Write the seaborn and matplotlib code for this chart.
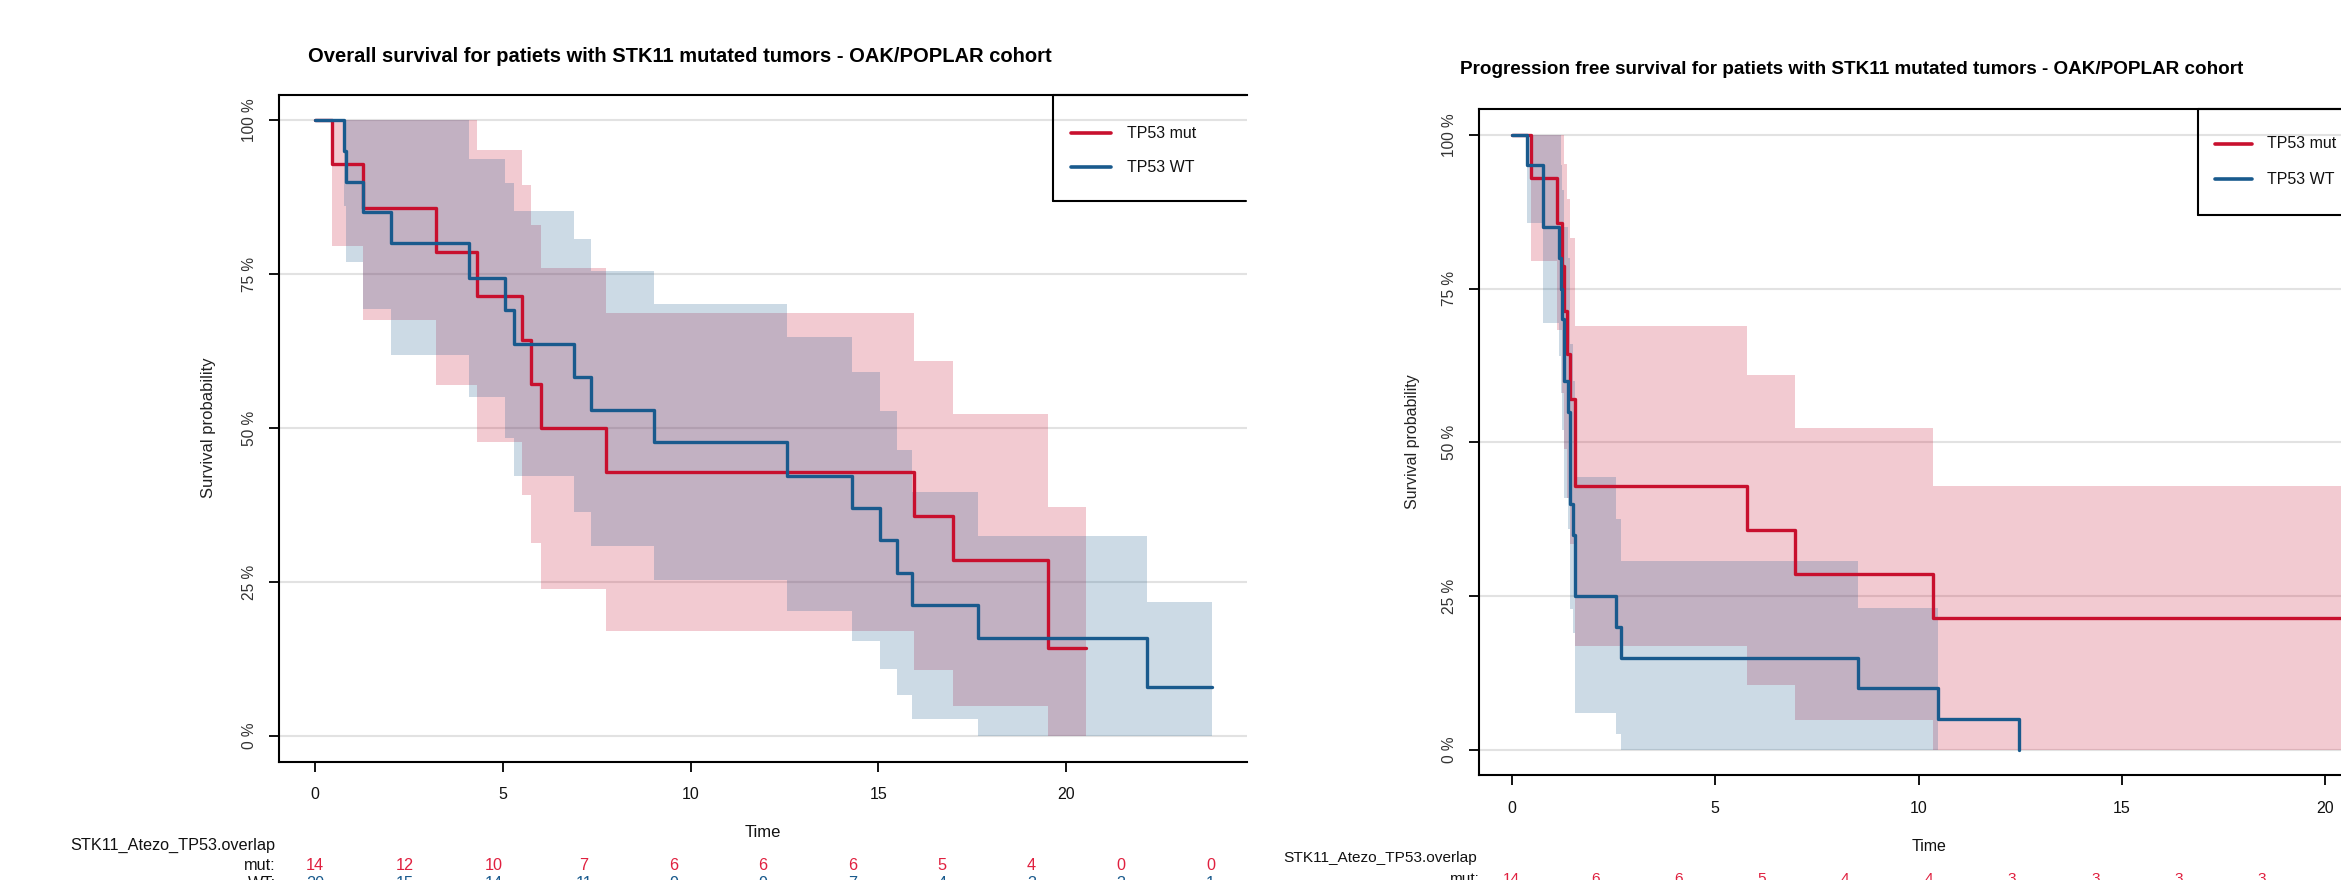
import numpy as np
import pandas as pd
import matplotlib
matplotlib.use("Agg")
import matplotlib.pyplot as plt
import seaborn as sns
from matplotlib.lines import Line2D
from matplotlib import transforms

# ------------------------------------------------------------------ data
groups = ["TP53 mut", "TP53 WT"]

# Overall survival (left panel)
os_mut_t  = [0.00, 0.45, 1.28, 3.23, 4.30, 5.52, 5.75, 6.01, 7.74, 15.94, 17.00, 19.53, 20.53]
os_mut_s  = [1.000, 0.929, 0.857, 0.786, 0.714, 0.643, 0.571, 0.500, 0.429, 0.357, 0.286, 0.143, 0.143]
os_mut_lo = [1.000, 0.796, 0.675, 0.570, 0.477, 0.392, 0.313, 0.238, 0.170, 0.107, 0.049, 0.000, 0.000]
os_mut_hi = [1.000, 1.000, 1.000, 1.000, 0.951, 0.894, 0.830, 0.760, 0.687, 0.609, 0.522, 0.372, 0.372]

os_wt_t  = [0.00, 0.77, 0.82, 1.28, 2.03, 4.10, 5.05, 5.30, 6.89, 7.36, 9.03, 12.56, 14.29, 15.04, 15.49, 15.91, 17.65, 22.16, 23.90]
os_wt_s  = [1.000, 0.950, 0.900, 0.850, 0.800, 0.743, 0.691, 0.637, 0.582, 0.530, 0.477, 0.422, 0.370, 0.318, 0.265, 0.212, 0.159, 0.079, 0.079]
os_wt_lo = [1.000, 0.860, 0.770, 0.694, 0.619, 0.551, 0.484, 0.422, 0.364, 0.308, 0.253, 0.203, 0.154, 0.108, 0.067, 0.027, 0.000, 0.000, 0.000]
os_wt_hi = [1.000, 1.000, 1.000, 1.000, 1.000, 0.937, 0.897, 0.853, 0.807, 0.755, 0.702, 0.648, 0.591, 0.528, 0.464, 0.396, 0.324, 0.217, 0.217]

# Progression free survival (right panel)
pfs_mut_t  = [0.00, 0.47, 1.12, 1.22, 1.29, 1.36, 1.42, 1.54, 5.78, 6.97, 10.36, 20.50]
pfs_mut_s  = [1.000, 0.929, 0.857, 0.786, 0.714, 0.643, 0.571, 0.429, 0.357, 0.286, 0.214, 0.214]
pfs_mut_lo = [1.000, 0.795, 0.682, 0.580, 0.490, 0.410, 0.335, 0.169, 0.106, 0.049, 0.000, 0.000]
pfs_mut_hi = [1.000, 1.000, 1.000, 1.000, 0.952, 0.895, 0.832, 0.689, 0.609, 0.523, 0.429, 0.429]

pfs_wt_t  = [0.00, 0.36, 0.76, 1.15, 1.20, 1.24, 1.27, 1.37, 1.42, 1.49, 1.54, 1.56, 2.56, 2.68, 8.50, 10.47, 12.46]
pfs_wt_s  = [1.000, 0.950, 0.850, 0.800, 0.750, 0.700, 0.600, 0.550, 0.400, 0.350, 0.300, 0.250, 0.200, 0.150, 0.100, 0.050, 0.000]
pfs_wt_band_t  = [0.00, 0.36, 0.76, 1.15, 1.20, 1.24, 1.27, 1.37, 1.42, 1.49, 1.54, 1.56, 2.56, 2.68, 8.50, 10.47]
pfs_wt_lo = [1.000, 0.857, 0.694, 0.640, 0.580, 0.520, 0.410, 0.360, 0.230, 0.190, 0.140, 0.060, 0.026, 0.000, 0.000, 0.000]
pfs_wt_hi = [1.000, 1.000, 1.000, 1.000, 0.950, 0.910, 0.850, 0.800, 0.660, 0.600, 0.520, 0.444, 0.375, 0.307, 0.231, 0.231]

# numbers at risk
os_risk_times = [0.00, 2.39, 4.77, 7.16, 9.54, 11.93, 14.31, 16.70, 19.08, 21.47, 23.85]
os_risk_mut = [14, 12, 10, 7, 6, 6, 6, 5, 4, 0, 0]
os_risk_wt = [20, 15, 14, 11, 9, 9, 7, 4, 3, 3, 1]
pfs_risk_times = [0.00, 2.05, 4.10, 6.15, 8.20, 10.25, 12.30, 14.35, 16.40, 18.45]
pfs_risk_mut = [14, 6, 6, 5, 4, 4, 3, 3, 3, 3]

y_ticks = [0, 0.25, 0.5, 0.75, 1.0]
y_ticklabels = ["0 %", "25 %", "50 %", "75 %", "100 %"]
x_ticks = [0, 5, 10, 15, 20]

title_os = "Overall survival for patiets with STK11 mutated tumors - OAK/POPLAR cohort"
title_pfs = "Progression free survival for patiets with STK11 mutated tumors - OAK/POPLAR cohort"
strata_label = "STK11_Atezo_TP53.overlap"

# ------------------------------------------------------------------ style
RED = "#C8102E"
BLUE = "#195A8D"
RED_TXT = "#E0203F"
palette = {"TP53 mut": RED, "TP53 WT": BLUE}

sns.set_style("white")
plt.rcParams["font.family"] = ["Liberation Sans", "DejaVu Sans"]

W, H = 2341, 880
fig = plt.figure(figsize=(W / 100, H / 100), dpi=100)
fig.patch.set_facecolor("white")


def fx(px):
    return px / W


def fy(py):
    return 1 - py / H


def panel(rect, xlim, ylim, curves, bands, tick_fs, pad_x, pad_y):
    ax = fig.add_axes(rect)
    ax.set_xlim(*xlim)
    ax.set_ylim(*ylim)
    ax.set_facecolor("white")
    ax.set_axisbelow(True)
    ax.yaxis.grid(True, color="#E2E2E2", lw=1.5)
    ax.xaxis.grid(False)
    for (t, lo, hi), col in bands:
        ax.fill_between(t, lo, hi, step="post", color=col, alpha=0.22, lw=0, zorder=1)
    frames = []
    for g, (t, s) in curves.items():
        frames.append(pd.DataFrame({"time": t, "surv": s, "group": g}))
    df = pd.concat(frames, ignore_index=True)
    sns.lineplot(data=df, x="time", y="surv", hue="group", palette=palette,
                 hue_order=groups, estimator=None, drawstyle="steps-post",
                 lw=2.4, legend=False, ax=ax, zorder=3)
    ax.set_xlabel("")
    ax.set_ylabel("")
    ax.set_xticks(x_ticks)
    ax.set_xticklabels([str(v) for v in x_ticks], fontsize=tick_fs, color="#111111")
    ax.set_yticks(y_ticks)
    ax.set_yticklabels(y_ticklabels, rotation=90, va="center", fontsize=tick_fs - 0.3, color="#333333")
    ax.tick_params(axis="x", direction="out", length=7.5, width=1.3, color="black", pad=pad_x, bottom=True)
    ax.tick_params(axis="y", direction="out", length=7.5, width=1.3, color="black", pad=pad_y, left=True)
    for side in ["left", "bottom", "top"]:
        ax.spines[side].set_visible(True)
        ax.spines[side].set_color("black")
        ax.spines[side].set_linewidth(1.5)
    ax.spines["right"].set_visible(False)
    return ax


# ---------------- left panel: overall survival
axL = panel([fx(279), fy(762), fx(1247 - 279), (762 - 95) / H],
            (-0.96, 24.82), (-0.0422, 1.0406),
            {"TP53 mut": (os_mut_t, os_mut_s), "TP53 WT": (os_wt_t, os_wt_s)},
            [((os_mut_t, os_mut_lo, os_mut_hi), RED), ((os_wt_t, os_wt_lo, os_wt_hi), BLUE)],
            11.5, 10.5, 8.5)

# ---------------- right panel: progression free survival
axR = panel([fx(1479), fy(775), fx(899), (775 - 109) / H],
            (-0.81, 21.3), (-0.0406, 1.0418),
            {"TP53 mut": (pfs_mut_t, pfs_mut_s), "TP53 WT": (pfs_wt_t, pfs_wt_s)},
            [((pfs_mut_t, pfs_mut_lo, pfs_mut_hi), RED), ((pfs_wt_band_t, pfs_wt_lo, pfs_wt_hi), BLUE)],
            11.5, 11.0, 8.0)

# titles and axis labels
fig.text(fx(680), fy(56), title_os, ha="center", va="center", fontsize=14.5, fontweight="bold", color="black")
fig.text(fx(1852), fy(70), title_pfs, ha="center", va="center", fontsize=13.6, fontweight="bold", color="black")
fig.text(fx(209), fy(428), "Survival probability", rotation=90, ha="center", va="center", fontsize=12, color="#222222")
fig.text(fx(1413), fy(442), "Survival probability", rotation=90, ha="center", va="center", fontsize=11.5, color="#222222")
fig.text(fx(763), fy(832), "Time", ha="center", va="center", fontsize=12, color="#111111")
fig.text(fx(1929), fy(846), "Time", ha="center", va="center", fontsize=11.5, color="#111111")


# legends (boxes partly cut by the screenshot edge)
def legend_box(x0, x1, y0, y1, line_x0, line_x1, text_x, rows, fs):
    for xs, ys in [([x0, x0], [y0, y1]), ([x0, x1], [y1, y1]), ([x0, x1], [y0, y0])]:
        fig.add_artist(Line2D([fx(v) for v in xs], [fy(v) for v in ys], color="black", lw=1.5))
    for g, ry in zip(groups, rows):
        fig.add_artist(Line2D([fx(line_x0), fx(line_x1)], [fy(ry), fy(ry)], color=palette[g], lw=2.6))
        fig.text(fx(text_x), fy(ry), g, ha="left", va="center", fontsize=fs, color="#111111")


legend_box(1053, 1246, 95, 201, 1071, 1111, 1127, [133, 167], 11.5)
legend_box(2198, 2345, 109, 215, 2215, 2252, 2267, [144, 179], 11.5)


# number-at-risk tables
def risk_table(ax, times, rows, title_xy, label_x, row_ys, fs):
    fig.text(fx(title_xy[0]), fy(title_xy[1]), strata_label, ha="left", va="center", fontsize=fs, color="#111111")
    trans = transforms.blended_transform_factory(ax.transData, fig.transFigure)
    for (name, vals, col), ry in zip(rows, row_ys):
        fig.text(fx(label_x), fy(ry), name, ha="right", va="center", fontsize=fs, color="#111111")
        for t, v in zip(times, vals):
            ax.text(t, fy(ry), str(v), transform=trans, ha="center", va="center",
                    fontsize=fs, color=col, clip_on=False)


risk_table(axL, os_risk_times,
           [("mut:", os_risk_mut, RED_TXT), ("WT:", os_risk_wt, BLUE)],
           (70, 845), 276, [865, 883], 11.7)
risk_table(axR, pfs_risk_times,
           [("mut:", pfs_risk_mut, RED_TXT)],
           (1283, 858), 1480, [879], 11.1)

fig.savefig("out.png", dpi=100)
